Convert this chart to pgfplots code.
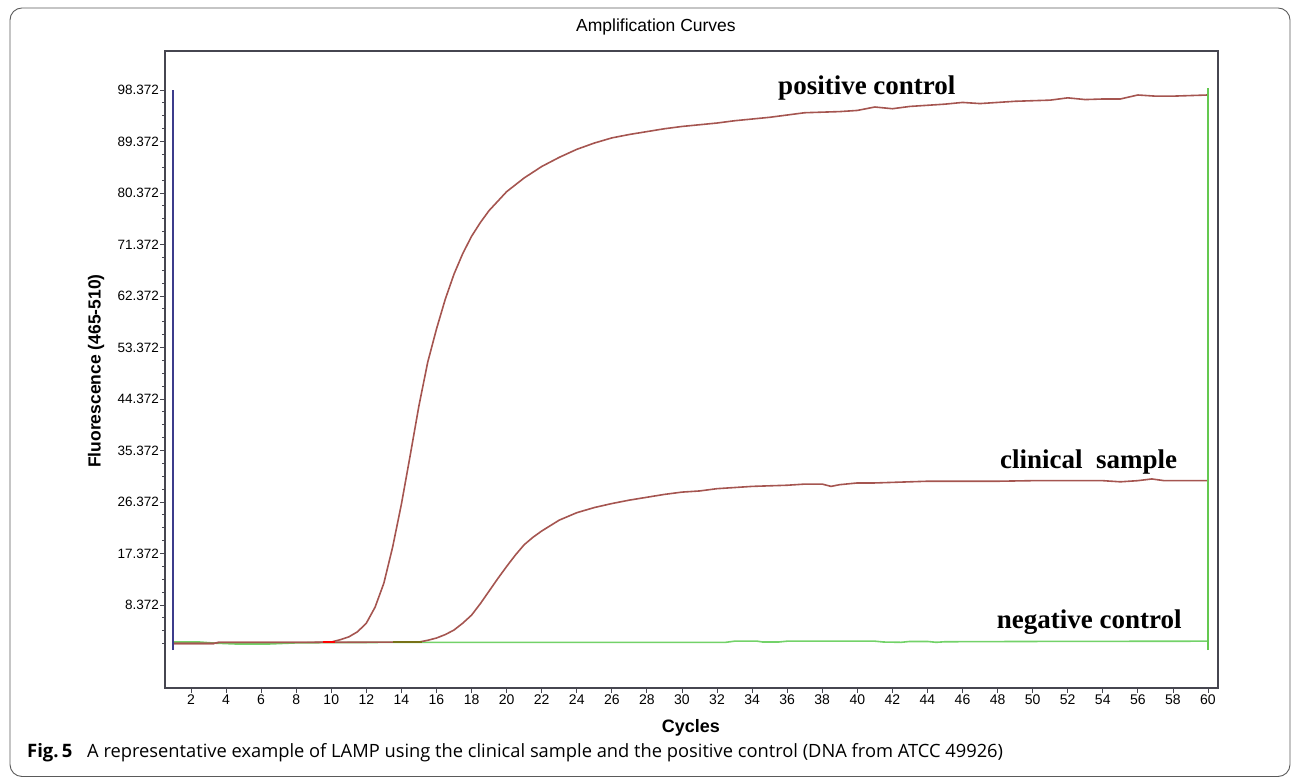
\documentclass[border=0pt]{standalone}
\usepackage{fontspec}
\setmainfont{Liberation Sans}
\newfontfamily\annotfont{Liberation Serif}
\newfontfamily\capfont{Open Sans}
\usepackage{pgfplots}
\pgfplotsset{compat=1.18}

\definecolor{poscol}{RGB}{165,85,80}
\definecolor{negcol}{RGB}{115,210,105}
\definecolor{bluebar}{RGB}{60,60,140}
\definecolor{greenbar}{RGB}{100,200,80}
\definecolor{axiscol}{RGB}{70,70,80}
\definecolor{framecol}{RGB}{90,90,90}

\begin{document}
\begin{tikzpicture}
\useasboundingbox (0pt,0pt) rectangle (1293pt,778pt);
\draw[framecol, line width=0.9pt, rounded corners=12pt] (10pt,1.5pt) rectangle (1290pt,770pt);

\begin{axis}[
    at={(165pt,90pt)}, anchor=south west,
    scale only axis, width=1053pt, height=637pt,
    xmin=0.517, xmax=60.57,
    ymin=-6.133, ymax=105.19,
    axis line style={axiscol, line width=1.2pt},
    tick style={axiscol, line width=0.8pt},
    tick align=outside,
    xtick pos=bottom, ytick pos=left,
    major tick length=5pt, minor tick length=3pt,
    xtick={2,4,...,60},
    ytick={8.372,17.372,26.372,35.372,44.372,53.372,62.372,71.372,80.372,89.372,98.372},
    yticklabels={8.372,17.372,26.372,35.372,44.372,53.372,62.372,71.372,80.372,89.372,98.372},
    minor ytick={1.622,3.872,6.122,10.622,12.872,15.122,19.622,21.872,24.122,
        28.622,30.872,33.122,37.622,39.872,42.122,46.622,48.872,51.122,
        55.622,57.872,60.122,64.622,66.872,69.122,73.622,75.872,78.122,
        82.622,84.872,87.122,91.622,93.872,96.122},
    /pgf/number format/assume math mode=true,
    every tick label/.append style={font=\fontsize{13.5}{15}\selectfont},
    xticklabel style={inner ysep=2pt, font=\fontsize{14}{15}\selectfont},
    yticklabel style={inner xsep=1pt},
    title={Amplification Curves},
    title style={at={(axis description cs:0.4663,1.0283)}, anchor=center,
        font=\fontsize{17.5}{19}\selectfont},
    xlabel={Cycles},
    xlabel style={at={(axis description cs:0.4995,-0.0628)}, anchor=center,
        font=\bfseries\fontsize{18}{20}\selectfont},
    ylabel={Fluorescence (465-510)},
    ylabel style={at={(axis description cs:-0.0655,0.4976)}, anchor=center, rotate=0,
        font=\bfseries\fontsize{17.5}{19}\selectfont},
]

% negative control
\addplot[negcol, line width=1.6pt] coordinates {
    (1,1.9) (2.5,1.9) (3.4,1.7) (4.6,1.55) (6.4,1.55) (8,1.75) (10,1.8)
    (15,1.85) (20,1.85) (32.5,1.85) (33,2.05) (34.3,2.05) (34.6,1.9)
    (35.5,1.9) (36,2.05) (41,2.05) (41.5,1.9) (42.5,1.85) (43,2.0)
    (44,2.0) (44.5,1.85) (45,1.95) (50,2.0) (60,2.05)
};

% clinical sample
\addplot[poscol, line width=1.6pt] coordinates {
    (1,1.65) (3.3,1.65) (3.6,1.85) (10,1.85) (15,1.9) (15.5,2.2) (16,2.6)
    (16.5,3.2) (17,4.0) (17.5,5.2) (18,6.6) (18.5,8.6) (19,10.8) (19.5,13.0)
    (20,15.1) (20.5,17.1) (21,18.9) (21.5,20.2) (22,21.3) (23,23.2)
    (24,24.5) (25,25.4) (26,26.1) (27,26.7) (28,27.2) (29,27.7) (30,28.1)
    (31,28.3) (32,28.7) (33,28.9) (34,29.1) (35,29.2) (36,29.3) (37,29.5)
    (38,29.5) (38.5,29.1) (39,29.4) (40,29.7) (41,29.7) (42,29.8) (43,29.9)
    (44,30.0) (46,30.0) (48,30.0) (50,30.1) (52,30.1) (54,30.1) (55,29.9)
    (56,30.1) (56.8,30.4) (57.5,30.1) (60,30.1)
};

% positive control
\addplot[poscol, line width=1.6pt] coordinates {
    (1,1.65) (2,1.65) (3.3,1.65) (3.6,1.85) (5,1.85) (7,1.85) (9,1.85)
    (10,1.9) (10.5,2.3) (11,2.8) (11.5,3.7) (12,5.2) (12.5,8.0) (13,12.2)
    (13.5,18.5) (14,26.0) (14.5,34.5) (15,43.2) (15.5,50.8) (16,56.6)
    (16.5,61.8) (17,66.2) (17.5,69.8) (18,72.8) (18.5,75.2) (19,77.3)
    (20,80.6) (21,83.0) (22,85.0) (23,86.6) (24,88.0) (25,89.1) (26,90.0)
    (27,90.6) (28,91.1) (29,91.6) (30,92.0) (31,92.3) (32,92.6) (33,93.0)
    (34,93.3) (35,93.6) (36,94.0) (37,94.4) (38,94.5) (39,94.6) (40,94.8)
    (41,95.4) (42,95.1) (43,95.5) (44,95.7) (45,95.9) (46,96.2) (47,96.0)
    (48,96.2) (49,96.4) (50,96.5) (51,96.6) (52,97.0) (53,96.7) (54,96.8)
    (55,96.8) (56,97.5) (57,97.3) (58,97.3) (59,97.4) (60,97.5)
};

% other baseline wells
\addplot[red, line width=1.6pt] coordinates {(9.5,1.9) (10.2,1.9)};
\addplot[olive!80!black, line width=1.6pt] coordinates {(13.5,1.9) (15.2,1.9)};

% run markers
\addplot[bluebar, line width=2.6pt] coordinates {(0.97,0.5) (0.97,98.4)};
\addplot[greenbar, line width=2.2pt] coordinates {(60,0.5) (60,98.7)};

\node[anchor=base west, inner sep=0pt, font=\annotfont\bfseries\fontsize{27}{30}\selectfont]
    at (axis cs:35.48,97.5) {positive control};
\node[anchor=base west, inner sep=0pt, font=\annotfont\bfseries\fontsize{27}{30}\selectfont]
    at (axis cs:48.14,32.31) {clinical\ \ sample};
\node[anchor=base west, inner sep=0pt, font=\annotfont\bfseries\fontsize{27}{30}\selectfont]
    at (axis cs:47.95,4.30) {negative control};
\end{axis}

\node[anchor=base west, inner sep=0pt, font=\capfont\bfseries\fontsize{18.5}{20}\selectfont]
    at (27pt,20pt) {Fig.\,5};
\node[anchor=base west, inner sep=0pt, font=\capfont\fontsize{18.3}{20}\selectfont]
    at (87pt,20pt) {A representative example of LAMP using the clinical sample and the positive control (DNA from ATCC 49926)};
\end{tikzpicture}
\end{document}
